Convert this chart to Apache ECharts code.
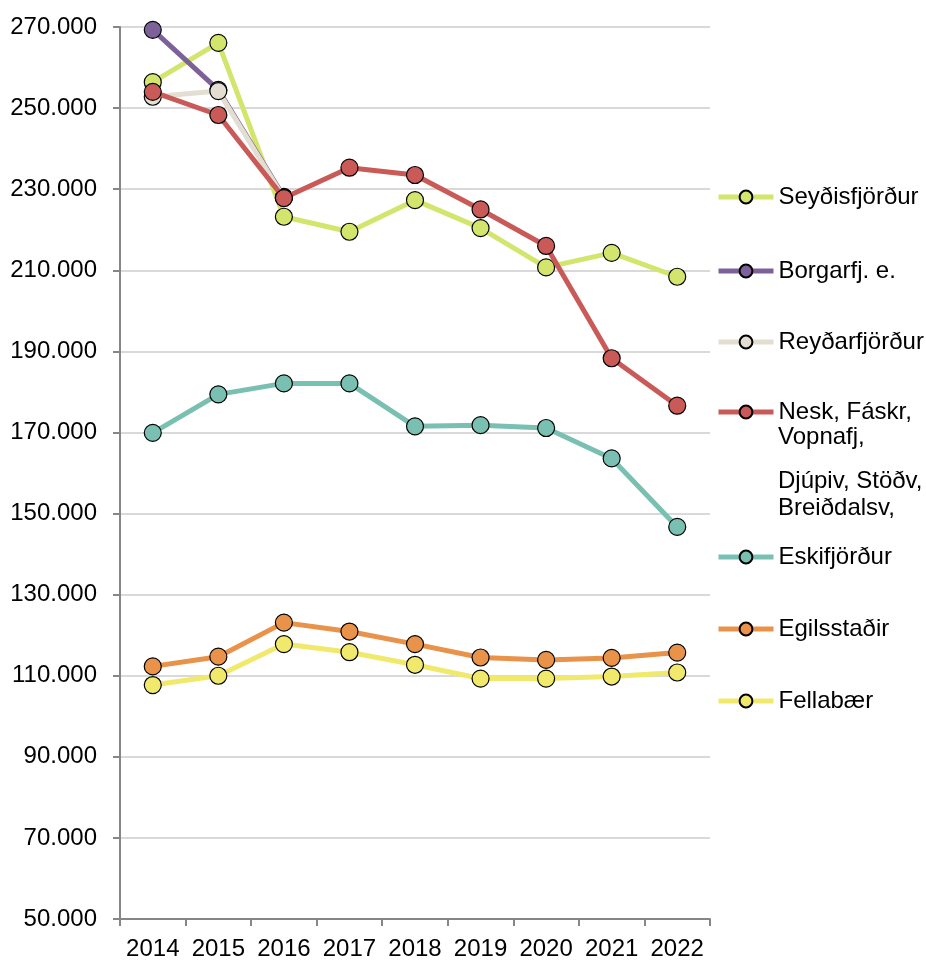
<!DOCTYPE html>
<html>
<head>
<meta charset="utf-8">
<script src="https://cdn.jsdelivr.net/npm/echarts@6/dist/echarts.min.js"></script>
<style>
  html, body { margin: 0; padding: 0; background: #fff; }
  #chart { width: 926px; height: 965px; }
</style>
</head>
<body>
<div id="chart"></div>
<script>
const years = ['2014', '2015', '2016', '2017', '2018', '2019', '2020', '2021', '2022'];

const seydisfjordur = [256400, 266100, 223200, 219500, 227300, 220400, 210700, 214300, 208400];
const borgarfjordur = [269300, 254500, 228100, null, null, null, null, null, null];
const reydarfjordur = [252800, 254200, 227900, null, null, null, null, null, null];
const neskaupstadur = [254000, 248300, 227800, 235300, 233500, 225000, 216000, 188300, 176600];
const eskifjordur = [169900, 179400, 182100, 182100, 171500, 171800, 171100, 163600, 146700];
const egilsstadir = [112300, 114700, 123100, 120900, 117800, 114500, 113900, 114400, 115700];
const fellabaer = [107700, 110000, 117800, 115800, 112700, 109300, 109300, 109800, 110800];

const seriesNames = ['Seyðisfjörður', 'Borgarfj. e.', 'Reyðarfjörður',
    'Nesk, Fáskr, Vopnafj, Djúpiv, Stöðv, Breiðdalsv,', 'Eskifjörður', 'Egilsstaðir', 'Fellabær'];
const seriesData = [seydisfjordur, borgarfjordur, reydarfjordur, neskaupstadur, eskifjordur, egilsstadir, fellabaer];
const colors = ['#d4e56e', '#7d6299', '#e3ded1', '#c95a58', '#79c0b3', '#e8924a', '#f1e96c'];

// legend rows (vertical centre of each item)
const legendCentres = [197, 271, 342, 412, 557, 629, 701];

const font = '"Liberation Sans", Arial, sans-serif';

function fmt(v) {
    return String(v).replace(/\B(?=(\d{3})+(?!\d))/g, '.');
}

let chart = echarts.init(document.getElementById('chart'));

let legends = seriesNames.map((name, i) => ({
    data: [name],
    left: 716,
    top: legendCentres[i] - 13,
    padding: 0,
    itemWidth: 55,
    itemHeight: 16,
    itemGap: 0,
    lineStyle: {width: 5},
    formatter: n => n.startsWith('Nesk') ? 'Nesk, Fáskr,' : n,
    textStyle: {fontFamily: font, fontSize: 24, color: '#000', lineHeight: 26}
}));

let series = seriesNames.map((name, i) => ({
    name: name,
    type: 'line',
    data: seriesData[i],
    z: 2 + i,
    symbol: 'circle',
    symbolSize: 17,
    showSymbol: true,
    connectNulls: false,
    lineStyle: {color: colors[i], width: 5},
    itemStyle: {color: colors[i], borderColor: '#000', borderWidth: 1.2},
    emphasis: {disabled: true}
}));

chart.setOption({
    animation: false,
    backgroundColor: '#fff',
    grid: {left: 120, right: 216, top: 27, bottom: 46},
    legend: legends,
    graphic: [
        {type: 'text', left: 778, top: 425, style: {text: 'Vopnafj,', font: '24px ' + font, fill: '#000'}},
        {type: 'text', left: 778, top: 469, style: {text: 'Djúpiv, Stöðv,', font: '24px ' + font, fill: '#000'}},
        {type: 'text', left: 778, top: 496, style: {text: 'Breiðdalsv,', font: '24px ' + font, fill: '#000'}}
    ],
    xAxis: {
        type: 'category',
        data: years,
        boundaryGap: true,
        axisLine: {lineStyle: {color: '#868686', width: 2}},
        axisTick: {show: true, length: 7, interval: 0, lineStyle: {color: '#868686', width: 2}},
        axisLabel: {fontFamily: font, fontSize: 24, color: '#000', margin: 18, interval: 0}
    },
    yAxis: {
        type: 'value',
        min: 50000,
        max: 270000,
        interval: 20000,
        axisLine: {show: true, lineStyle: {color: '#868686', width: 2}},
        axisTick: {show: true, length: 7, lineStyle: {color: '#868686', width: 2}},
        splitLine: {lineStyle: {color: '#d9d9d9', width: 2}},
        axisLabel: {fontFamily: font, fontSize: 24, color: '#000', margin: 23, formatter: fmt}
    },
    series: series
});
</script>
</body>
</html>
